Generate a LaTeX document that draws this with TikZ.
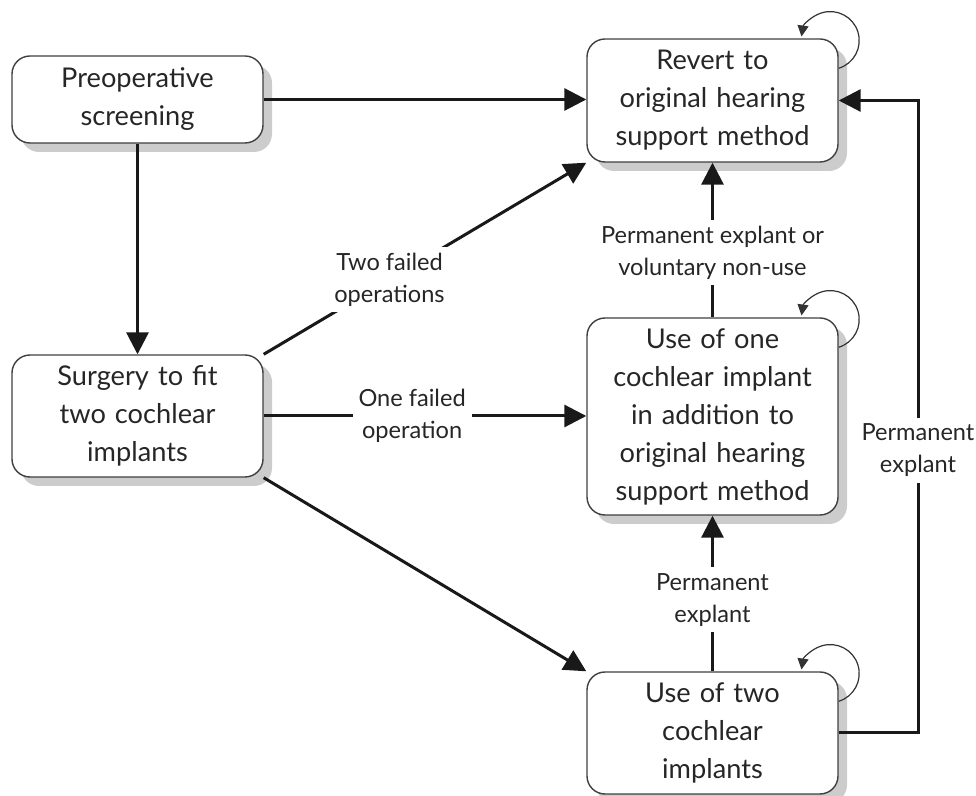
\documentclass[tikz,border=0pt]{standalone}
\usepackage{fontspec}
\setmainfont{Lato}
\usetikzlibrary{arrows.meta,shadows,calc}
\begin{document}
\begin{tikzpicture}[x=0.5pt,y=-0.5pt,
  box/.style={draw=black!75, line width=0.7pt, rounded corners=9pt, fill=white,
    align=center, minimum width=125.5pt, text width=122pt,
    font=\fontsize{13.6}{19}\selectfont, text=black!85, inner sep=0pt,
    drop shadow={shadow xshift=4.5pt, shadow yshift=-4.5pt, fill=black!20, opacity=1}},
  conn/.style={line width=1.5pt, black!90, -{Triangle[length=11pt,width=11pt]}},
  lab/.style={fill=white, align=center, font=\fontsize{11.8}{16}\selectfont,
    text=black!85, inner sep=3pt},
  selfloop/.style={line width=0.6pt, black!80, -{Triangle[length=5.5pt,width=5.5pt]}}]
\useasboundingbox (0,0) rectangle (976,796);

\node[box, minimum height=43.5pt] (preop) at (137.5,99.5) {Preoperative\\screening};
\node[box, minimum height=61.5pt] (revert) at (712.5,100.5) {Revert to\\original hearing\\support method};
\node[box, minimum height=61pt] (surgery) at (137.5,416) {Surgery to fit\\two cochlear\\implants};
\node[box, minimum height=98.5pt] (one) at (712.5,416.5) {Use of one\\cochlear implant\\in addition to\\original hearing\\support method};
\node[box, minimum height=61pt] (two) at (712.5,733) {Use of two\\cochlear\\implants};
\coordinate (rt) at (918,0);

\draw[conn] (preop.east) -- (preop.east -| revert.west);
\draw[conn] (preop) -- (surgery);
\draw[conn] (surgery.north east) -- node[lab,pos=0.39]{Two failed\\operations} (revert.south west);
\draw[conn] (surgery.east) -- node[lab,pos=0.46]{One failed\\operation} (surgery.east -| one.west);
\draw[conn] (surgery.south east) -- (two.north west);
\draw[conn] (one) -- node[lab,pos=0.42]{Permanent explant or\\voluntary non-use} (revert);
\draw[conn] (two) -- node[lab,pos=0.46]{Permanent\\explant} (one);
\draw[conn] (two.east) -- (two.east -| rt) -- node[lab,pos=0.447,inner xsep=1pt]{Permanent\\explant} (rt |- revert.east) -- (revert.east);

\draw[selfloop] ($(revert.north east)+(0,30)$) arc[start angle=-73, end angle=172, radius=14.5pt];
\draw[selfloop] ($(one.north east)+(0,30)$) arc[start angle=-73, end angle=172, radius=14.5pt];
\draw[selfloop] ($(two.north east)+(0,30)$) arc[start angle=-73, end angle=172, radius=14.5pt];
\end{tikzpicture}
\end{document}
